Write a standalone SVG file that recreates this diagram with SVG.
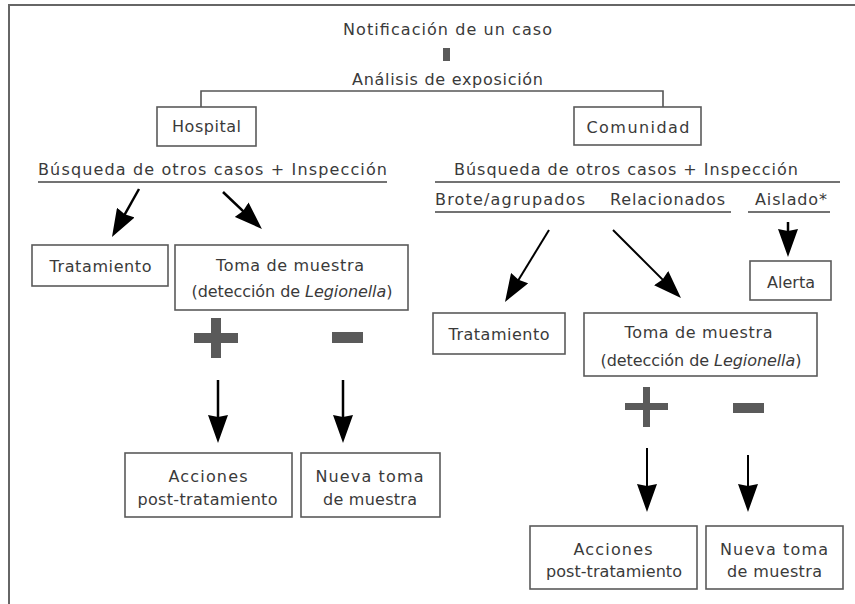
<svg xmlns="http://www.w3.org/2000/svg" width="855" height="604" viewBox="0 0 855 604">
<style>
.t{font-family:"DejaVu Sans","Verdana",sans-serif;font-size:16px;fill:#3a3a3a;text-anchor:middle}
.box{fill:#fff;stroke:#5a5a5a;stroke-width:1.6}
.frame{fill:none;stroke:#666;stroke-width:2}
.conn{fill:none;stroke:#555;stroke-width:1.6}
.ul{fill:none;stroke:#444;stroke-width:1.5}
.arr{fill:none;stroke:#000;stroke-width:2.5;marker-end:url(#ah)}
.sign{fill:#5a5a5a}
</style>
<defs>
<marker id="ah" viewBox="0 0 28 20" refX="18" refY="10" markerWidth="28" markerHeight="20" markerUnits="userSpaceOnUse" orient="auto">
<path d="M0,0 L28,10 L0,20 L2,10 Z" fill="#000"/>
</marker>
</defs>
<rect width="855" height="604" fill="#fff"/>
<path class="frame" d="M9,604 V5 H855"/>

<g id="connectors">
<path class="conn" d="M201,107 V91 H663 V107"/>
<rect class="sign" x="443" y="48" width="7" height="13"/>
<line class="ul" x1="38" y1="182" x2="387" y2="182"/>
<line class="ul" x1="435" y1="182" x2="840" y2="182"/>
<line class="ul" x1="435" y1="212" x2="731" y2="212"/>
<line class="ul" x1="748" y1="212" x2="830" y2="212"/>
<line class="arr" x1="139" y1="189" x2="116.9" y2="228.3"/>
<line class="arr" x1="223" y1="192" x2="254.7" y2="222.1"/>
<line class="arr" x1="549" y1="230" x2="510.2" y2="293.5" style="stroke-width:2"/>
<line class="arr" x1="613" y1="230" x2="673.9" y2="290.9" style="stroke-width:2"/>
<line class="arr" x1="788" y1="222" x2="788" y2="247"/>
<line class="arr" x1="218" y1="380" x2="218" y2="433"/>
<line class="arr" x1="343" y1="380" x2="343" y2="433"/>
<line class="arr" x1="647" y1="448" x2="647" y2="502" style="stroke-width:2"/>
<line class="arr" x1="748" y1="455" x2="748" y2="502" style="stroke-width:2"/>
<rect class="sign" x="194" y="333" width="44" height="10"/>
<rect class="sign" x="211" y="318" width="10" height="40"/>
<rect class="sign" x="332" y="332" width="31" height="11"/>
<rect class="sign" x="625" y="403" width="43" height="7"/>
<rect class="sign" x="643" y="387" width="7" height="40"/>
<rect class="sign" x="733" y="403" width="31" height="10"/>
</g>

<g id="notificacion"><text class="t" x="447.5" y="35" textLength="209" lengthAdjust="spacing">Notificación de un caso</text></g>
<g id="analisis"><text class="t" x="447.5" y="85" textLength="191" lengthAdjust="spacing">Análisis de exposición</text></g>

<g id="hospital"><rect class="box" x="157" y="107" width="99" height="39"/><text class="t" x="206.5" y="132" textLength="69" lengthAdjust="spacing">Hospital</text></g>
<g id="comunidad"><rect class="box" x="574" y="107" width="127" height="38"/><text class="t" x="638" y="133" textLength="103" lengthAdjust="spacing">Comunidad</text></g>

<g id="busqueda-h"><text class="t" x="212.5" y="175" textLength="349" lengthAdjust="spacing">Búsqueda de otros casos + Inspección</text></g>
<g id="busqueda-c"><text class="t" x="626" y="175" textLength="344" lengthAdjust="spacing">Búsqueda de otros casos + Inspección</text></g>
<g id="brote"><text class="t" x="510" y="205" textLength="150" lengthAdjust="spacing">Brote/agrupados</text></g>
<g id="relacionados"><text class="t" x="667.5" y="205" textLength="115" lengthAdjust="spacing">Relacionados</text></g>
<g id="aislado"><text class="t" x="791" y="205" textLength="72" lengthAdjust="spacing">Aislado*</text></g>

<g id="tratamiento-h"><rect class="box" x="32" y="245" width="136" height="41"/><text class="t" x="100.5" y="272" textLength="102" lengthAdjust="spacing">Tratamiento</text></g>
<g id="toma-h"><rect class="box" x="175" y="245" width="233" height="65"/><text class="t" x="290" y="271" textLength="148" lengthAdjust="spacing">Toma de muestra</text><text class="t" x="292" y="297" textLength="201" lengthAdjust="spacing">(detección de <tspan font-style="italic">Legionella</tspan>)</text></g>
<g id="acciones-h"><rect class="box" x="125" y="453" width="167" height="64"/><text class="t" x="208" y="482" textLength="79" lengthAdjust="spacing">Acciones</text><text class="t" x="207.5" y="505" textLength="140" lengthAdjust="spacing">post-tratamiento</text></g>
<g id="nueva-h"><rect class="box" x="301" y="453" width="139" height="64"/><text class="t" x="369.5" y="482" textLength="108" lengthAdjust="spacing">Nueva toma</text><text class="t" x="370" y="505" textLength="94" lengthAdjust="spacing">de muestra</text></g>

<g id="alerta"><rect class="box" x="750" y="261" width="81" height="39"/><text class="t" x="791" y="288" textLength="48" lengthAdjust="spacing">Alerta</text></g>
<g id="tratamiento-c"><rect class="box" x="433" y="313" width="132" height="41"/><text class="t" x="499" y="340" textLength="101" lengthAdjust="spacing">Tratamiento</text></g>
<g id="toma-c"><rect class="box" x="584" y="313" width="233" height="63"/><text class="t" x="698.5" y="338" textLength="148" lengthAdjust="spacing">Toma de muestra</text><text class="t" x="701" y="366" textLength="201" lengthAdjust="spacing">(detección de <tspan font-style="italic">Legionella</tspan>)</text></g>
<g id="acciones-c"><rect class="box" x="530" y="526" width="167" height="63"/><text class="t" x="613" y="555" textLength="79" lengthAdjust="spacing">Acciones</text><text class="t" x="614" y="577" textLength="136" lengthAdjust="spacing">post-tratamiento</text></g>
<g id="nueva-c"><rect class="box" x="706" y="526" width="137" height="63"/><text class="t" x="774" y="555" textLength="108" lengthAdjust="spacing">Nueva toma</text><text class="t" x="774.5" y="577" textLength="95" lengthAdjust="spacing">de muestra</text></g>
</svg>
